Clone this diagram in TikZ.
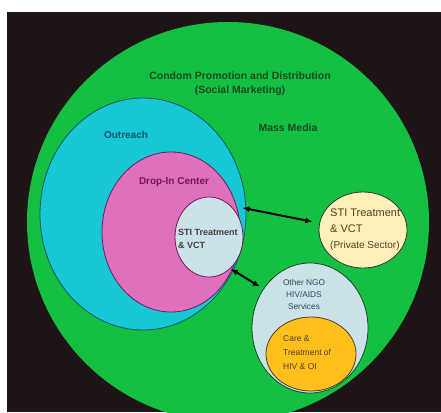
\documentclass[tikz,border=0pt]{standalone}
\usepackage{fontspec}
\setmainfont{Liberation Sans}
\usetikzlibrary{positioning,arrows.meta,shapes.geometric}
\definecolor{bgdark}{RGB}{30,20,22}
\definecolor{mkgreen}{RGB}{20,192,66}
\definecolor{mkcyan}{RGB}{22,200,214}
\definecolor{mkpink}{RGB}{222,112,190}
\definecolor{mkpale}{RGB}{202,226,232}
\definecolor{mkcream}{RGB}{255,240,186}
\definecolor{mkorange}{RGB}{255,192,28}
\definecolor{txgreen}{RGB}{22,72,34}
\definecolor{txteal}{RGB}{12,84,104}
\definecolor{txplum}{RGB}{118,24,84}
\definecolor{txbrown}{RGB}{84,60,30}
\definecolor{txslate}{RGB}{52,70,96}

\begin{document}
\begin{tikzpicture}[
  x=1pt, y=-1pt,
  zone/.style={ellipse, inner sep=0pt, line width=0.8pt},
  lbl/.style={inner sep=0pt, align=left},
  link/.style={{Latex[length=7pt,width=6pt]}-{Latex[length=7pt,width=6pt]},
               line width=2pt, draw=black},
]
\useasboundingbox (0,0) rectangle (441,412);
\fill[bgdark] (7,12) rectangle (441,412);

\begin{scope}
\clip (7,12) rectangle (441,412);
% the big campaign zone
\node[zone, fill=mkgreen, minimum width=402pt, minimum height=400pt] (condom) at (228,222) {};
\end{scope}

% outreach nest
\node[zone, fill=mkcyan, draw=txteal, minimum width=206pt, minimum height=232pt] (outreach) at (143,214) {};
\node[zone, fill=mkpink, draw=txplum, minimum width=138pt, minimum height=160pt] (dropin) at (171,232) {};
\node[zone, fill=mkpale, draw=txplum, minimum width=68pt, minimum height=80pt] (clinic) at (209,237) {};

% private sector and NGO services
\node[zone, fill=mkcream, draw=black!80, minimum width=88pt, minimum height=76pt] (private) at (363,230) {};
\node[zone, fill=mkpale, draw=txgreen, minimum width=116pt, minimum height=130pt] (ngo) at (310,328) {};
\node[zone, fill=mkorange, draw=txbrown, minimum width=90pt, minimum height=74pt] (care) at (311,354) {};

% labels
\node[lbl, align=center, text=txgreen, font=\fontsize{10.5}{14}\selectfont\bfseries] (title) at (240,84)
  {Condom Promotion and Distribution\\(Social Marketing)};
\node[lbl, text=txgreen, font=\fontsize{10.5}{12}\selectfont\bfseries] (media) at (288,128) {Mass Media};
\node[lbl, text=txteal, font=\fontsize{10}{12}\selectfont\bfseries] (outlbl) at (126,135) {Outreach};
\node[lbl, text=txplum, font=\fontsize{10}{12}\selectfont\bfseries] (droplbl) at (174,182) {Drop-In Center};
\node[lbl, anchor=west, text=black!75, font=\fontsize{9}{13}\selectfont\bfseries] (cliniclbl) at (178,239)
  {STI Treatment\\\& VCT};
\node[lbl, anchor=west, text=txbrown, font=\fontsize{11}{16}\selectfont] (privlbl) at (330,229.5)
  {STI Treatment\\\& VCT\\{\fontsize{10}{16}\selectfont (Private Sector)}};
\node[lbl, align=center, text=txslate, font=\fontsize{8.3}{12}\selectfont] (ngolbl) at (304,295)
  {Other NGO\\HIV/AIDS\\Services};
\node[lbl, anchor=west, text=txbrown, font=\fontsize{8.5}{14}\selectfont] (carelbl) at (283,353)
  {Care \&\\Treatment of\\HIV \& OI};

% links
\draw[link, shorten <=-4pt, shorten >=7pt] (outreach.3) -- (private.171);
\draw[link, shorten <=-3pt, shorten >=4pt] (outreach.-32) -- (ngo.140);
\end{tikzpicture}
\end{document}
